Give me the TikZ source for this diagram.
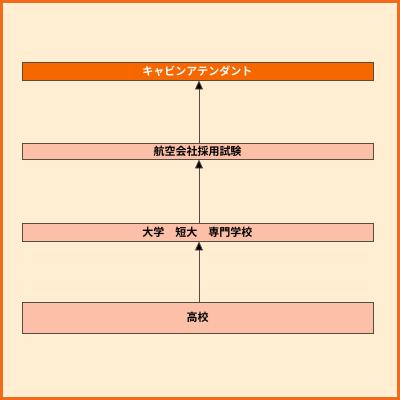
\documentclass[tikz,border=0pt]{standalone}
\usepackage{xcolor}
\usepackage{fontspec}
\newfontfamily\jpfont{Noto Sans CJK JP Bold}
\usepackage{tikz}
\usetikzlibrary{arrows.meta,positioning}
\definecolor{cream}{HTML}{FFEED2}
\definecolor{frame}{HTML}{F26B1D}
\definecolor{morange}{HTML}{F76700}
\definecolor{salmon}{HTML}{FCC0A8}
\definecolor{edge}{HTML}{5A4A40}
\tikzset{
  stage/.style={draw=edge, line width=0.9pt, fill=#1, minimum width=351pt,
                inner sep=0pt, font=\jpfont\fontsize{11}{12}\selectfont},
  rise/.style={-{Triangle[length=9pt,width=8pt,fill=black]}, draw=edge, line width=0.8pt}
}

\begin{document}
\begin{tikzpicture}[x=1pt, y=-1pt]
  \draw[draw=frame, line width=3pt, fill=cream] (1.5,1.5) rectangle (398.5,398.5);
  \node[stage=morange, text=white, minimum height=18pt] (ca) at (197.5,71) {キャビンアテンダント};
  \node[stage=salmon, minimum height=16pt] (exam) at (197.5,151) {航空会社採用試験};
  \node[stage=salmon, minimum height=18pt] (univ) at (197.5,232) {大学　短大　専門学校};
  \node[stage=salmon, minimum height=31pt] (high) at (197.5,317.5) {高校};
  \draw[rise] (high.north -| 199,0) -- (univ.south -| 199,0);
  \draw[rise] (univ.north -| 199,0) -- (exam.south -| 199,0);
  \draw[rise] (exam.north -| 199,0) -- (ca.south -| 199,0);
\end{tikzpicture}
\end{document}
